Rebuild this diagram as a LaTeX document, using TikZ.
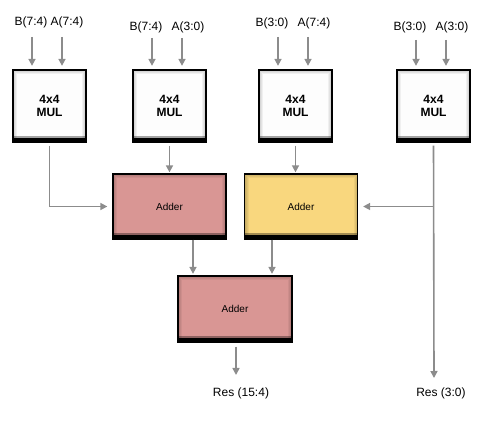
\documentclass[tikz,border=0pt]{standalone}
\usepackage{fontspec}
\setmainfont{Liberation Sans}
\usepackage{tikz}
\usetikzlibrary{calc,arrows.meta}
\definecolor{mulwhite}{RGB}{253,253,253}
\definecolor{addpink}{RGB}{217,150,148}
\definecolor{addyellow}{RGB}{249,215,126}
\definecolor{wiregray}{RGB}{140,140,140}
\tikzset{
  every node/.style={font=\fontsize{12}{12}\selectfont},
  bevel/.style={path picture={
      \foreach \w in {2,4,6,8}
        \draw[black,opacity=0.05,line width=\w pt] (path picture bounding box.south west) rectangle (path picture bounding box.north east);
      \fill[black] (path picture bounding box.south west) rectangle ([yshift=3.5pt]path picture bounding box.south east);
      \fill[black,opacity=0.35] ([yshift=3.5pt]path picture bounding box.south west) rectangle ([yshift=5.5pt]path picture bounding box.south east);}},
  mulbox/.style={draw=black,line width=1.3pt,fill=mulwhite,bevel,minimum width=73pt,minimum height=72pt,inner sep=0pt,align=center,font=\fontsize{12}{12.5}\selectfont\bfseries},
  addbox/.style={draw=black,line width=1.3pt,bevel,minimum width=113pt,minimum height=65pt,inner sep=0pt,font=\fontsize{10}{10}\selectfont},
  wire/.style={draw=wiregray,line width=1.6pt,-{Triangle[length=7pt,width=7pt]}},
  buslabel/.style={inner sep=0pt,font=\fontsize{12}{12}\selectfont}
}
\begin{document}
\begin{tikzpicture}[x=1pt,y=1pt]
\useasboundingbox (0,0) rectangle (500,420);
% multipliers
\node[mulbox] (mul1) at (49.5,314) {4x4\\MUL};
\node[mulbox] (mul2) at (169.5,314) {4x4\\MUL};
\node[mulbox] (mul3) at (295.5,314) {4x4\\MUL};
\node[mulbox] (mul4) at (433.5,314) {4x4\\MUL};
% adders
\node[addbox,fill=addpink] (add1) at (169.5,213.5) {Adder};
\node[addbox,fill=addyellow] (add2) at (301,213.5) {Adder};
\node[addbox,fill=addpink,minimum width=114pt,minimum height=66pt] (add3) at (235,111) {Adder};
% input labels
\node[buslabel] (lb1) at (31,398) {B(7:4)};
\node[buslabel] (la1) at (67,398) {A(7:4)};
\node[buslabel] (lb2) at (146,393) {B(7:4)};
\node[buslabel] (la2) at (188,393) {A(3:0)};
\node[buslabel] (lb3) at (272,397) {B(3:0)};
\node[buslabel] (la3) at (314,397) {A(7:4)};
\node[buslabel] (lb4) at (410,393) {B(3:0)};
\node[buslabel] (la4) at (452,393) {A(3:0)};
% input wires
\coordinate (inb1) at (32,383);  \coordinate (ina1) at (62,383);
\coordinate (inb2) at (152,382); \coordinate (ina2) at (182,382);
\coordinate (inb3) at (278,383); \coordinate (ina3) at (308,383);
\coordinate (inb4) at (416,380); \coordinate (ina4) at (446,380);
\foreach \k in {1,2,3,4}{
  \draw[wire,shorten >=3.5pt] (inb\k) -- (inb\k |- mul\k.north);
  \draw[wire,shorten >=3.5pt] (ina\k) -- (ina\k |- mul\k.north);
}
% partial products to adders
\draw[wire,shorten <=3pt,shorten >=5pt] (mul1.south) |- (add1.west);
\draw[wire,shorten <=3pt,shorten >=1pt] (mul2.south) -- (add1.north);
\draw[wire,shorten <=3pt,shorten >=1pt] (mul3.south) -- (mul3.south |- add2.north);
\coordinate (tap) at (mul4.south |- add2.east);
\coordinate (res2) at (434,42);
\draw[wire,shorten <=3pt] (mul4.south) -- (res2);
\draw[wire,shorten >=5pt] (tap) -- (add2.east);
% adders to final adder
\draw[wire,shorten >=1.5pt] ([xshift=23.5pt]add1.south) -- ([xshift=23.5pt]add1.south |- add3.north);
\draw[wire,shorten >=1.5pt] ([xshift=-29pt]add2.south) -- ([xshift=-29pt]add2.south |- add3.north);
% results
\coordinate (res1) at (236,45);
\draw[wire,shorten <=4pt] (add3.south -| res1) -- (res1);
\node[buslabel] (lres1) at (241,27) {Res (15:4)};
\node[buslabel] (lres2) at (441,27) {Res (3:0)};
\end{tikzpicture}
\end{document}
